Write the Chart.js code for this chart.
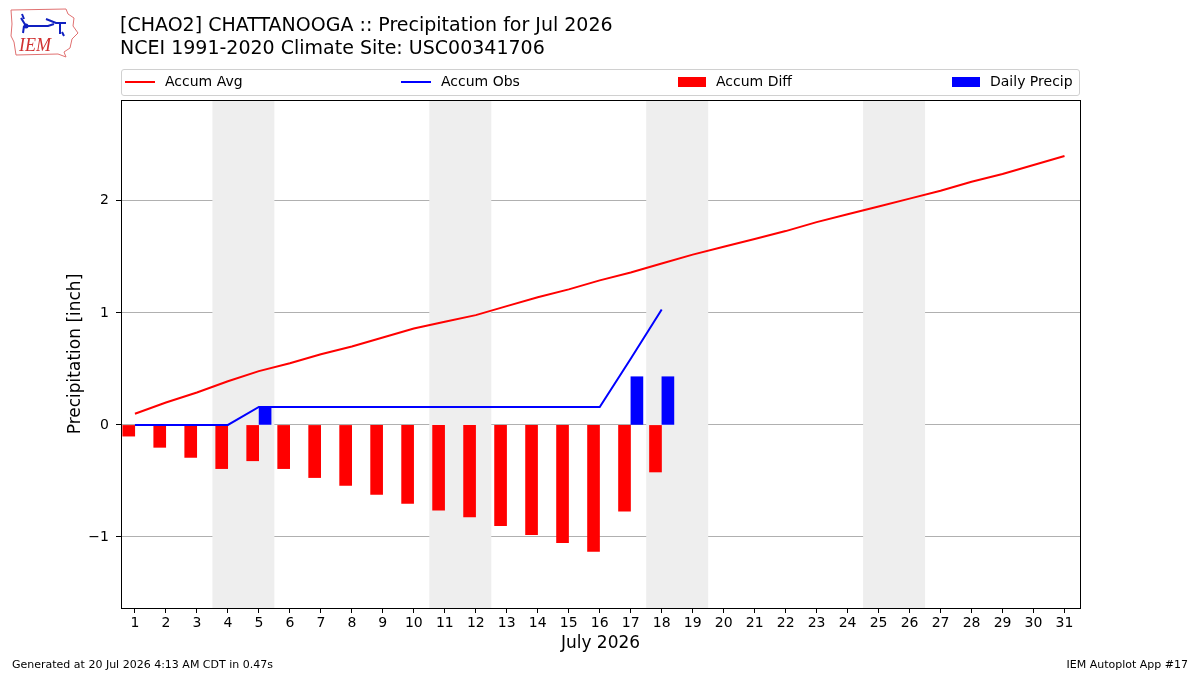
<!DOCTYPE html>
<html>
<head>
<meta charset="utf-8">
<script src="https://cdn.jsdelivr.net/npm/chart.js@4.4.1/dist/chart.umd.min.js"></script>
<style>
  html, body { margin: 0; padding: 0; background: #fff; }
  body { width: 1200px; height: 675px; position: relative; overflow: hidden; font-family: "DejaVu Sans", sans-serif; color: #000; }
  #wrap { position: absolute; left: 0; top: 0; width: 1200px; height: 675px; }
  .title { position: absolute; left: 120px; font-size: 19px; line-height: 23px; white-space: nowrap; }
  #legend { position: absolute; left: 121px; top: 69px; width: 957px; height: 25px; border: 1px solid #d0d0d0; border-radius: 3px; font-size: 14px; }
  .lg { position: absolute; top: 3px; white-space: nowrap; line-height: 17px; }
  .lg i { display: inline-block; vertical-align: middle; margin-right: 10px; }
  .foot { position: absolute; top: 658px; font-size: 11px; white-space: nowrap; }
</style>
</head>
<body>
<div id="wrap"><canvas id="wykres" width="1200" height="675"></canvas></div>

<svg style="position:absolute;left:8px;top:6px" width="72" height="54" viewBox="0 0 72 54">
  <path d="M3 4 L58 3 L60 8 L66 12 L65 20 L70 27 L64 33 L62 42 L56 46 L58 51 L50 48 L8 49 L6 36 L3 30 L4 18 Z" fill="none" stroke="#e07070" stroke-width="1"/>
  <path d="M14 8 L16 13 M13 12 L18 20 L40 20 L46 18 M38 13 L48 17 L58 17 M52 17 L52 28 M16 20 L15 27 M54 26 L56 30" stroke="#1020c0" stroke-width="2" fill="none"/>
  <circle cx="18" cy="20" r="2.5" fill="#1020c0"/>
  <text x="11" y="45" font-family="Liberation Serif, serif" font-style="italic" font-size="18" fill="#d03030">IEM</text>
</svg>

<div class="title" style="top:13px">[CHAO2] CHATTANOOGA :: Precipitation for Jul 2026</div>
<div class="title" style="top:36px">NCEI 1991-2020 Climate Site: USC00341706</div>

<div id="legend">
  <span class="lg" style="left:3px"><i style="width:30px;height:2px;background:#f00"></i>Accum Avg</span>
  <span class="lg" style="left:279px"><i style="width:30px;height:2px;background:#00f"></i>Accum Obs</span>
  <span class="lg" style="left:556px"><i style="width:28px;height:10px;background:#f00"></i>Accum Diff</span>
  <span class="lg" style="left:830px"><i style="width:28px;height:10px;background:#00f"></i>Daily Precip</span>
</div>

<div class="foot" style="left:12px">Generated at 20 Jul 2026 4:13 AM CDT in 0.47s</div>
<div class="foot" style="right:12px">IEM Autoplot App #17</div>

<script>
'use strict';

/* ---- dane ---- */
var dni = [];
for (var d = 1; d <= 31; d++) dni.push(d);

var accumAvg = [0.10, 0.20, 0.29, 0.39, 0.48, 0.55, 0.63, 0.70, 0.78, 0.86,
                0.92, 0.98, 1.06, 1.14, 1.21, 1.29, 1.36, 1.44, 1.52, 1.59,
                1.66, 1.73, 1.81, 1.88, 1.95, 2.02, 2.09, 2.17, 2.24, 2.32, 2.40];

var accumObs = [0, 0, 0, 0, 0.16, 0.16, 0.16, 0.16, 0.16, 0.16,
                0.16, 0.16, 0.16, 0.16, 0.16, 0.16, 0.59, 1.03];

var accumDiff = [-0.10, -0.20, -0.29, -0.39, -0.32, -0.39, -0.47, -0.54, -0.62, -0.70,
                 -0.76, -0.82, -0.90, -0.98, -1.05, -1.13, -0.77, -0.42];

var dailyPrecip = [0, 0, 0, 0, 0.16, 0, 0, 0, 0, 0,
                   0, 0, 0, 0, 0, 0, 0.43, 0.43];

var weekendy = [4, 11, 18, 25];   // soboty (sob+nd)
var yTicks = [-1, 0, 1, 2];

/* ---- pomocnicze ---- */
function punkty(arr, off) {
  return arr.map(function (v, i) { return { x: dni[i] + off, y: v === 0 && off !== 0 ? null : v }; });
}

var tloWeekendy = {
  id: 'tloWeekendy',
  beforeDatasetsDraw: function (chart) {
    var ctx = chart.ctx, a = chart.chartArea, xs = chart.scales.x;
    ctx.save();
    ctx.fillStyle = '#eeeeee';
    weekendy.forEach(function (s) {
      var x0 = xs.getPixelForValue(s - 0.5), x1 = xs.getPixelForValue(s + 1.5);
      ctx.fillRect(x0, a.top, x1 - x0, a.bottom - a.top);
    });
    ctx.restore();
  },
  afterDraw: function (chart) {
    var ctx = chart.ctx, a = chart.chartArea;
    ctx.save();
    ctx.strokeStyle = '#000';
    ctx.lineWidth = 1;
    ctx.strokeRect(Math.round(a.left) + 0.5, Math.round(a.top) + 0.5, Math.round(a.right - a.left), Math.round(a.bottom - a.top));
    ctx.restore();
  }
};

var tickFont = { family: 'DejaVu Sans', size: 14 };
var titleFont = { family: 'DejaVu Sans', size: 17 };

new Chart(document.getElementById('wykres'), {
  data: {
    datasets: [
      { type: 'line', label: 'Accum Avg', data: punkty(accumAvg, 0), borderColor: '#ff0000', borderWidth: 2, pointRadius: 0, tension: 0, order: 1 },
      { type: 'line', label: 'Accum Obs', data: punkty(accumObs, 0), borderColor: '#0000ff', borderWidth: 2, pointRadius: 0, tension: 0, order: 2 },
      { type: 'bar', label: 'Accum Diff', data: punkty(accumDiff, -0.2), backgroundColor: '#ff0000', barThickness: 12, grouped: false, order: 3 },
      { type: 'bar', label: 'Daily Precip', data: punkty(dailyPrecip, 0.2), backgroundColor: '#0000ff', barThickness: 12, grouped: false, order: 4 }
    ]
  },
  options: {
    responsive: false,
    animation: false,
    layout: { padding: { left: 61, right: 120, top: 100, bottom: 17 } },
    plugins: { legend: { display: false }, tooltip: { enabled: false } },
    scales: {
      x: {
        type: 'linear', min: 0.55, max: 31.5, offset: false,
        afterBuildTicks: function (s) { s.ticks = dni.map(function (v) { return { value: v }; }); },
        afterFit: function (s) { s.height = 50; },
        ticks: { color: '#000', font: tickFont, padding: 2, maxRotation: 0, autoSkip: false },
        grid: { drawOnChartArea: false, offset: false, tickColor: '#000', tickLength: 5 },
        border: { color: '#000' },
        title: { display: true, text: 'July 2026', color: '#000', font: titleFont, padding: { top: 2, bottom: 4 } }
      },
      y: {
        type: 'linear', min: -1.634, max: 2.90,
        afterBuildTicks: function (s) { s.ticks = yTicks.map(function (v) { return { value: v }; }); },
        afterFit: function (s) { s.width = 60; },
        ticks: { color: '#000', font: tickFont, padding: 7, callback: function (v) { return v < 0 ? '\u2212' + Math.abs(v) : String(v); } },
        grid: { color: '#b0b0b0', tickColor: '#000', tickLength: 5 },
        border: { color: '#000' },
        title: { display: true, text: 'Precipitation [inch]', color: '#000', font: titleFont, padding: { bottom: 6 } }
      }
    }
  },
  plugins: [tloWeekendy]
});
</script>
</body>
</html>
